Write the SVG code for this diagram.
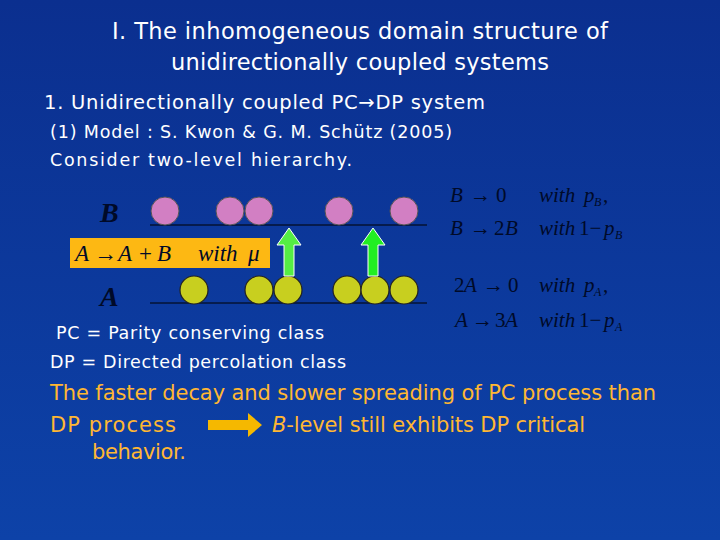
<svg xmlns="http://www.w3.org/2000/svg" width="720" height="540" viewBox="0 0 720 540">
<defs>
<linearGradient id="bg" x1="0" y1="0" x2="0" y2="1"><stop offset="0" stop-color="#0b2f8f"/><stop offset="1" stop-color="#0d42a8"/></linearGradient>
<style>
.w{fill:#fff;font-family:"DejaVu Sans",sans-serif}
.m{fill:#000a28;font-family:"Liberation Serif",serif;font-size:21px}
.i{font-style:italic}
.s{font-style:italic;font-size:12px}
.L{font-size:28px;font-weight:bold}
.bx{font-size:23px}
.o{fill:#ffb733;font-family:"DejaVu Sans",sans-serif;font-size:21px}
.pb{fill:#d27fc3;stroke:#555;stroke-width:1}
.ya{fill:#c8cf1f;stroke:#222;stroke-width:1.2}
</style>
</defs>
<rect width="720" height="540" fill="url(#bg)"/>
<text class="w" font-size="22.5" text-anchor="middle" x="360" y="39" textLength="496">I. The inhomogeneous domain structure of</text>
<text class="w" font-size="22.5" text-anchor="middle" x="360" y="70" textLength="378">unidirectionally coupled systems</text>
<text class="w" font-size="19.5" x="44" y="109" textLength="441">1. Unidirectionally coupled PC→DP system</text>
<text class="w" font-size="17.5" x="50" y="138" textLength="402">(1) Model : S. Kwon &amp; G. M. Schütz (2005)</text>
<text class="w" font-size="17.5" x="50" y="166" textLength="302">Consider two-level hierarchy.</text>
<g id="levels">
<text class="m i L" x="100" y="222">B</text>
<text class="m i L" x="100" y="306">A</text>
<line x1="150" y1="225" x2="427" y2="225" stroke="#000" stroke-width="1"/>
<line x1="150" y1="303" x2="427" y2="303" stroke="#000" stroke-width="1"/>
<circle class="pb" cx="165" cy="211" r="14"/><circle class="pb" cx="230" cy="211" r="14"/><circle class="pb" cx="259" cy="211" r="14"/><circle class="pb" cx="339" cy="211" r="14"/><circle class="pb" cx="404" cy="211" r="14"/>
<circle class="ya" cx="194" cy="290" r="14"/><circle class="ya" cx="259" cy="290" r="14"/><circle class="ya" cx="288" cy="290" r="14"/><circle class="ya" cx="347" cy="290" r="14"/><circle class="ya" cx="375" cy="290" r="14"/><circle class="ya" cx="404" cy="290" r="14"/>
</g>
<g id="arrows">
<polygon points="284,276 294,276 294,245 301,245 289,228 277,245 284,245" fill="#55ee44" stroke="#fff" stroke-width="1"/>
<polygon points="368,276 378,276 378,245 385,245 373,228 361,245 368,245" fill="#22ee22" stroke="#fff" stroke-width="1"/>
<polygon points="208,420 248,420 248,413 262,425 248,437 248,430 208,430" fill="#f5b800"/>
</g>
<g id="box">
<rect x="70" y="238" width="200" height="30" fill="#fdb813"/>
<text class="m i bx" x="75" y="261">A</text><text class="m bx" x="94" y="261">→</text><text class="m i bx" x="118" y="261">A</text><text class="m bx" x="139" y="261">+</text><text class="m i bx" x="157" y="261">B</text><text class="m i bx" x="198" y="261">with</text><text class="m i bx" x="248" y="261">μ</text>
</g>
<g id="rules">
<text class="m i" x="450" y="202">B</text><text class="m" x="470" y="202">→</text><text class="m" x="496" y="202">0</text><text class="m i" x="539" y="202">with</text><text class="m i" x="584" y="202">p</text><text class="m s" x="594" y="206">B</text><text class="m" x="603" y="202">,</text>
<text class="m i" x="450" y="235">B</text><text class="m" x="470" y="235">→</text><text class="m" x="494" y="235">2</text><text class="m i" x="505" y="235">B</text><text class="m i" x="539" y="235">with</text><text class="m" x="579" y="235">1−</text><text class="m i" x="604" y="235">p</text><text class="m s" x="615" y="239">B</text>
<text class="m" x="454" y="292">2</text><text class="m i" x="464" y="292">A</text><text class="m" x="483" y="292">→</text><text class="m" x="508" y="292">0</text><text class="m i" x="539" y="292">with</text><text class="m i" x="584" y="292">p</text><text class="m s" x="594" y="296">A</text><text class="m" x="603" y="292">,</text>
<text class="m i" x="455" y="327">A</text><text class="m" x="472" y="327">→</text><text class="m" x="495" y="327">3</text><text class="m i" x="505" y="327">A</text><text class="m i" x="539" y="327">with</text><text class="m" x="579" y="327">1−</text><text class="m i" x="604" y="327">p</text><text class="m s" x="615" y="331">A</text>
</g>
<text class="w" font-size="17.5" x="56" y="339" textLength="268">PC = Parity conserving class</text>
<text class="w" font-size="17.5" x="50" y="368" textLength="296">DP = Directed percolation class</text>
<text class="o" x="50" y="400" textLength="606">The faster decay and slower spreading of PC process than</text>
<text class="o" x="50" y="432" textLength="126">DP  process</text>
<text class="o" x="272" y="432" textLength="313"><tspan font-style="italic">B</tspan>-level still exhibits DP critical</text>
<text class="o" x="92" y="459" textLength="94">behavior.</text>
</svg>
